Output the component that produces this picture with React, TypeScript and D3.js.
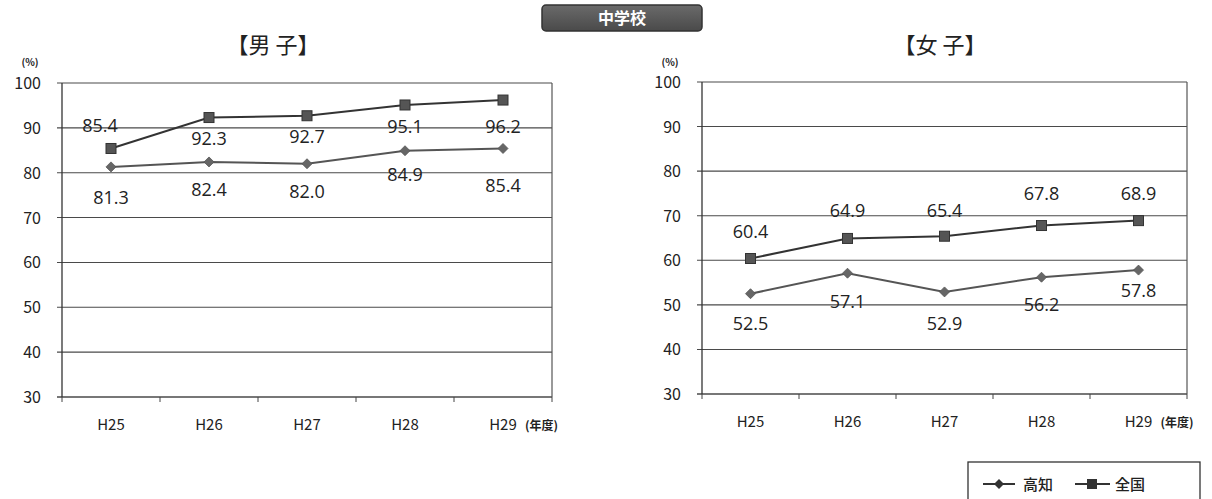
import React from "react";
import * as d3 from "d3";

const years = ["H25", "H26", "H27", "H28", "H29"];
const boysKochi = [81.3, 82.4, 82.0, 84.9, 85.4];
const boysNational = [85.4, 92.3, 92.7, 95.1, 96.2];
const girlsKochi = [52.5, 57.1, 52.9, 56.2, 57.8];
const girlsNational = [60.4, 64.9, 65.4, 67.8, 68.9];
const yTicks = [30, 40, 50, 60, 70, 80, 90, 100];
// label placement: offset in px (negative = above) relative to point
const boysNatOffset = [-22, 21, 21, 22, 27];
const boysKochiOffset = [31, 28, 28, 24, 38];
const girlsNatOffset = [-27, -27, -25, -32, -27];
const girlsKochiOffset = [30, 29, 32, 28, 21];

const numFont = "'Open Sans', 'Noto Sans', sans-serif";
const jpFont = "'Noto Sans CJK JP', sans-serif";

type PanelProps = {
  x0: number; x1: number; yTop: number; yBot: number;
  title: string; titleX: number;
  kochi: number[]; national: number[];
  kochiOff: number[]; natOff: number[];
  natDx?: number[];
};

function Panel(p: PanelProps) {
  const x = d3.scaleBand<string>().domain(years).range([p.x0, p.x1]);
  const y = d3.scaleLinear().domain([30, 100]).range([p.yBot, p.yTop]);
  const cx = (i: number) => (x(years[i]) as number) + x.bandwidth() / 2;
  const line = d3.line<number>().x((_, i) => cx(i)).y((v) => y(v));
  const gridColor = "#4a4a4a";
  return (
    <g>
      <text x={p.titleX} y={53} textAnchor="middle" fontFamily={jpFont} fontSize={22} fill="#222">{p.title}</text>
      <text x={p.x0 - 32} y={66} textAnchor="middle" fontFamily={jpFont} fontSize={10} fontWeight="bold" fill="#222">(%)</text>
      {yTicks.map((t) => (
        <g key={t}>
          <line x1={p.x0 - 5} x2={p.x1} y1={y(t)} y2={y(t)} stroke={gridColor} strokeWidth={t === 30 ? 1.3 : 1.1} />
          <text x={p.x0 - 21} y={y(t) + 6} textAnchor="end" fontFamily={jpFont} fontSize={16} fill="#222">{t}</text>
        </g>
      ))}
      <line x1={p.x0} x2={p.x0} y1={p.yTop} y2={p.yBot} stroke="#333" strokeWidth={1.3} />
      <line x1={p.x1} x2={p.x1} y1={p.yTop} y2={p.yBot} stroke="#555" strokeWidth={1.2} />
      {[...years.map((yr) => x(yr) as number), p.x1].map((tx, i) => (
        <line key={i} x1={tx} x2={tx} y1={p.yBot} y2={p.yBot + 5} stroke="#444" strokeWidth={1} />
      ))}
      {years.map((yr, i) => (
        <text key={yr} x={cx(i)} y={p.yBot + 33} textAnchor="middle" fontFamily={jpFont} fontSize={15} fill="#222">{yr}</text>
      ))}
      <text x={cx(4) + 22} y={p.yBot + 33} textAnchor="start" fontFamily={jpFont} fontSize={12} fontWeight="bold" fill="#222">(年度)</text>
      <path d={line(p.national) || ""} fill="none" stroke="#333" strokeWidth={2} />
      <path d={line(p.kochi) || ""} fill="none" stroke="#555" strokeWidth={2} />
      {p.national.map((v, i) => (
        <rect key={i} x={cx(i) - 5} y={y(v) - 5} width={10} height={10} fill="#555" stroke="#333" strokeWidth={1} />
      ))}
      {p.kochi.map((v, i) => (
        <path key={i} d={`M${cx(i)},${y(v) - 5}L${cx(i) + 5},${y(v)}L${cx(i)},${y(v) + 5}L${cx(i) - 5},${y(v)}Z`} fill="#666" stroke="#555" strokeWidth={0.8} />
      ))}
      {p.national.map((v, i) => (
        <text key={i} x={cx(i) + (p.natDx ? p.natDx[i] : 0)} y={y(v) + p.natOff[i] + 6} textAnchor="middle" fontFamily={numFont} fontSize={18} fill="#222">{v.toFixed(1)}</text>
      ))}
      {p.kochi.map((v, i) => (
        <text key={i} x={cx(i)} y={y(v) + p.kochiOff[i] + 6} textAnchor="middle" fontFamily={numFont} fontSize={18} fill="#222">{v.toFixed(1)}</text>
      ))}
    </g>
  );
}

export default function App() {
  return (
    <svg width={1212} height={499} style={{ position: "fixed", left: 0, top: 0, background: "#fff" }}>
      <defs>
        <linearGradient id="hdr" x1="0" y1="0" x2="0" y2="1">
          <stop offset="0" stopColor="#6a6a6a" />
          <stop offset="1" stopColor="#4a4a4a" />
        </linearGradient>
      </defs>
      <rect x={542} y={5} width={160} height={26} rx={4} fill="url(#hdr)" stroke="#333" strokeWidth={1.5} />
      <text x={622} y={24} textAnchor="middle" fontFamily={jpFont} fontSize={16} fontWeight="bold" fill="#fff">中学校</text>
      <Panel x0={62} x1={552} yTop={83} yBot={397} title="【男 子】" titleX={273}
        kochi={boysKochi} national={boysNational} kochiOff={boysKochiOffset} natOff={boysNatOffset}
        natDx={[-11, 0, 0, 0, 0]} />
      <Panel x0={702} x1={1187} yTop={82} yBot={394} title="【女 子】" titleX={940}
        kochi={girlsKochi} national={girlsNational} kochiOff={girlsKochiOffset} natOff={girlsNatOffset} />
      <g>
        <rect x={968} y={462} width={232} height={45} fill="#fff" stroke="#333" strokeWidth={1.3} />
        <line x1={983} x2={1015} y1={484} y2={484} stroke="#333" strokeWidth={2} />
        <path d="M999,479L1004,484L999,489L994,484Z" fill="#333" />
        <text x={1023} y={490} fontFamily={jpFont} fontSize={15} fontWeight={500} fill="#222">高知</text>
        <line x1={1075} x2={1110} y1={484} y2={484} stroke="#333" strokeWidth={2} />
        <rect x={1087} y={479} width={10} height={10} fill="#333" />
        <text x={1115} y={490} fontFamily={jpFont} fontSize={15} fontWeight={500} fill="#222">全国</text>
      </g>
    </svg>
  );
}
